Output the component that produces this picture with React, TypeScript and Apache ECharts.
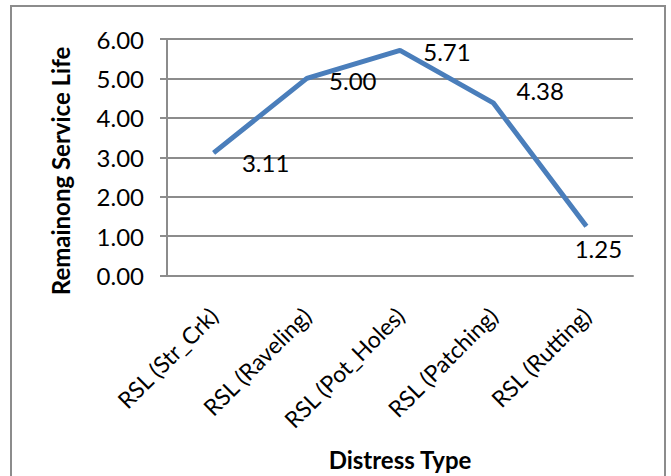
import React, { useEffect, useRef } from "react";
import * as echarts from "echarts";

const categories = ["RSL (Str_Crk)", "RSL (Raveling)", "RSL (Pot_Holes)", "RSL (Patching)", "RSL (Rutting)"];
const rslValues = [3.11, 5.0, 5.71, 4.38, 1.25];
const labelOffsets = [
  [52, 10],
  [46, 2],
  [47, 1],
  [47, -12],
  [12, 22],
];
const yTitle = "Remainong Service Life";
const xTitle = "Distress Type";

const FONT = "Lato, 'Open Sans', sans-serif";

export default function App() {
  const ref = useRef<HTMLDivElement>(null);
  useEffect(() => {
    if (!ref.current) return;
    const chart = echarts.init(ref.current, null, { renderer: "svg" });
    chart.setOption({
      animation: false,
      backgroundColor: "#ffffff",
      textStyle: { fontFamily: FONT },
      grid: { left: 167, right: 38, top: 39, bottom: 200.5, containLabel: false },
      xAxis: {
        type: "category",
        data: categories,
        boundaryGap: true,
        axisLine: { show: true, lineStyle: { color: "#8c8c8c", width: 2 } },
        axisTick: { show: false },
        axisLabel: { rotate: 45, margin: 36, fontSize: 23, color: "#000", fontFamily: FONT, interval: 0 },
        splitLine: { show: false },
      },
      yAxis: {
        type: "value",
        min: 0,
        max: 6,
        interval: 1,
        axisLine: { show: true, lineStyle: { color: "#8c8c8c", width: 2 } },
        axisTick: { show: true, length: 7, lineStyle: { color: "#8c8c8c", width: 2 } },
        axisLabel: {
          margin: 23,
          fontSize: 24,
          color: "#000",
          fontFamily: FONT,
          formatter: (v: number) => v.toFixed(2),
        },
        splitLine: { show: true, lineStyle: { color: "#8c8c8c", width: 2 } },
      },
      series: [
        {
          type: "line",
          data: rslValues.map((v, i) => ({
            value: v,
            label: { offset: labelOffsets[i] },
          })),
          symbol: "circle",
          symbolSize: 0.5,
          showSymbol: true,
          itemStyle: { color: "#4a7ebb" },
          lineStyle: { color: "#4a7ebb", width: 5 },
          label: {
            show: true,
            position: "inside",
            fontSize: 24,
            color: "#000",
            fontFamily: FONT,
            formatter: (p: any) => Number(p.value).toFixed(2),
          },
        },
      ],
      graphic: [
        {
          type: "rect",
          shape: { x: 11, y: 6, width: 654, height: 480 },
          style: { fill: "none", stroke: "#8c8c8c", lineWidth: 2 },
          silent: true,
          z: -1,
        },
        {
          type: "text",
          x: 60,
          y: 171,
          rotation: Math.PI / 2,
          style: {
            text: yTitle,
            fontSize: 24,
            fontWeight: "bold",
            fontFamily: FONT,
            fill: "#000",
            align: "center",
            verticalAlign: "middle",
          },
        },
        {
          type: "text",
          x: 400,
          y: 459,
          style: {
            text: xTitle,
            fontSize: 24,
            fontWeight: "bold",
            fontFamily: FONT,
            fill: "#000",
            align: "center",
            verticalAlign: "middle",
          },
        },
      ],
    });
    return () => chart.dispose();
  }, []);
  return (
    <div
      ref={ref}
      style={{ position: "absolute", left: 0, top: 0, width: 671, height: 476 }}
    />
  );
}
